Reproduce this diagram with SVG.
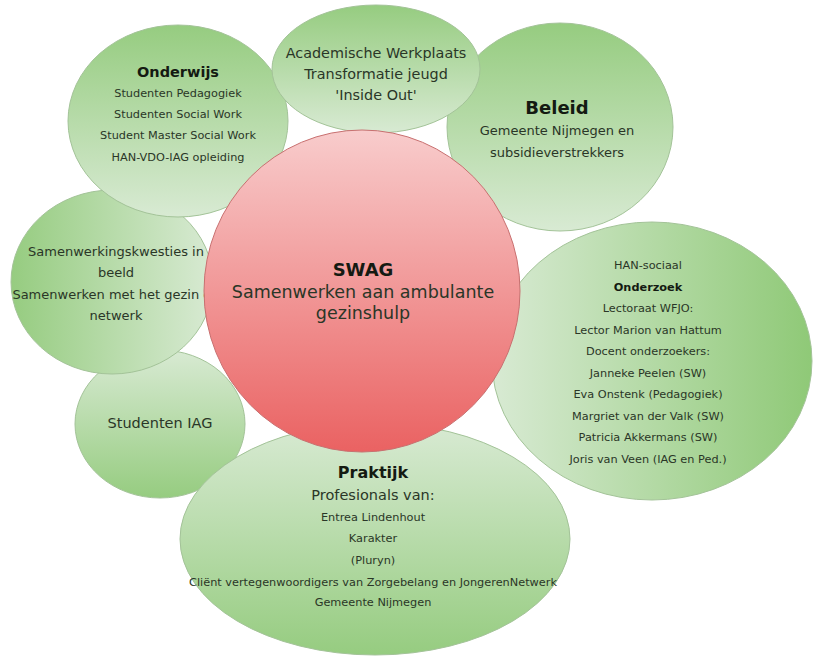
<svg xmlns="http://www.w3.org/2000/svg" width="816" height="656" viewBox="0 0 816 656">
<defs>
<linearGradient id="gDown" x1="0" y1="0" x2="0" y2="1"><stop offset="0" stop-color="#96cc80"/><stop offset="1" stop-color="#d8eAd3"/></linearGradient>
<linearGradient id="gUp" x1="0" y1="0" x2="0" y2="1"><stop offset="0" stop-color="#d8eAd3"/><stop offset="1" stop-color="#96cc80"/></linearGradient>
<linearGradient id="gRight" x1="0" y1="0" x2="1" y2="0"><stop offset="0" stop-color="#96cc80"/><stop offset="1" stop-color="#d8eAd3"/></linearGradient>
<linearGradient id="gLeft" x1="0" y1="0" x2="1" y2="0"><stop offset="0" stop-color="#d8eAd3"/><stop offset="1" stop-color="#8fc977"/></linearGradient>
<linearGradient id="gRed" x1="0" y1="0" x2="0" y2="1"><stop offset="0" stop-color="#f8cccc"/><stop offset="1" stop-color="#ea6262"/></linearGradient>
</defs>
<style>
.g{stroke:#a3c398;stroke-width:1}
.r{stroke:#c87070;stroke-width:1}
text{font-family:"DejaVu Sans","Liberation Sans",sans-serif;text-anchor:middle;fill:#2a3627}
.t{font-weight:bold;fill:#141a12}
.s{font-size:11.3px}
</style>
<rect width="816" height="656" fill="#ffffff"/>
<g id="studenten-iag">
<ellipse class="g" cx="160" cy="424" rx="85" ry="74" fill="url(#gUp)"/>
<text x="160" y="428" font-size="14.5">Studenten IAG</text>
</g>
<g id="samenwerking">
<ellipse class="g" cx="112" cy="282" rx="101" ry="92" fill="url(#gRight)"/>
<text x="116" y="256" font-size="13">Samenwerkingskwesties in</text>
<text x="116" y="277" font-size="13">beeld</text>
<text x="116" y="299" font-size="13">Samenwerken met het gezin en</text>
<text x="116" y="320" font-size="13">netwerk</text>
</g>
<g id="onderwijs">
<ellipse class="g" cx="178" cy="121" rx="110" ry="96" fill="url(#gDown)"/>
<text class="t" x="178" y="77" font-size="14.5">Onderwijs</text>
<text class="s" x="178" y="97">Studenten Pedagogiek</text>
<text class="s" x="178" y="118">Studenten Social Work</text>
<text class="s" x="178" y="139">Student Master Social Work</text>
<text class="s" x="178" y="161">HAN-VDO-IAG opleiding</text>
</g>
<g id="beleid">
<ellipse class="g" cx="560" cy="127" rx="113" ry="104" fill="url(#gDown)"/>
<text class="t" x="557" y="114" font-size="18">Beleid</text>
<text x="557" y="135" font-size="13">Gemeente Nijmegen en</text>
<text x="557" y="157" font-size="13">subsidieverstrekkers</text>
</g>
<g id="academische">
<ellipse class="g" cx="376" cy="69" rx="104" ry="64" fill="url(#gDown)"/>
<text x="376" y="58" font-size="14.4">Academische Werkplaats</text>
<text x="376" y="79" font-size="14.4">Transformatie jeugd</text>
<text x="376" y="100" font-size="14.4">'Inside Out'</text>
</g>
<g id="praktijk">
<ellipse class="g" cx="375" cy="539" rx="195" ry="116" fill="url(#gUp)"/>
<text class="t" x="373" y="478" font-size="16">Praktijk</text>
<text x="373" y="500" font-size="14.5">Profesionals van:</text>
<text class="s" x="373" y="521">Entrea Lindenhout</text>
<text class="s" x="373" y="542">Karakter</text>
<text class="s" x="373" y="564">(Pluryn)</text>
<text class="s" x="373" y="586">Cliënt vertegenwoordigers van Zorgebelang en JongerenNetwerk</text>
<text class="s" x="373" y="606">Gemeente Nijmegen</text>
</g>
<g id="onderzoek">
<ellipse class="g" cx="652" cy="361" rx="160" ry="139" fill="url(#gLeft)"/>
<text class="s" x="648" y="269">HAN-sociaal</text>
<text class="t s" x="648" y="291">Onderzoek</text>
<text class="s" x="648" y="312">Lectoraat WFJO:</text>
<text class="s" x="648" y="334">Lector Marion van Hattum</text>
<text class="s" x="648" y="355">Docent onderzoekers:</text>
<text class="s" x="648" y="377">Janneke Peelen (SW)</text>
<text class="s" x="648" y="398">Eva Onstenk (Pedagogiek)</text>
<text class="s" x="648" y="420">Margriet van der Valk (SW)</text>
<text class="s" x="648" y="441">Patricia Akkermans (SW)</text>
<text class="s" x="648" y="463">Joris van Veen (IAG en Ped.)</text>
</g>
<g id="swag">
<ellipse class="r" cx="362" cy="291" rx="158" ry="161" fill="url(#gRed)"/>
<text class="t" x="363" y="276" font-size="18">SWAG</text>
<text x="363" y="298" font-size="17.5">Samenwerken aan ambulante</text>
<text x="363" y="319" font-size="17.5">gezinshulp</text>
</g>
</svg>
